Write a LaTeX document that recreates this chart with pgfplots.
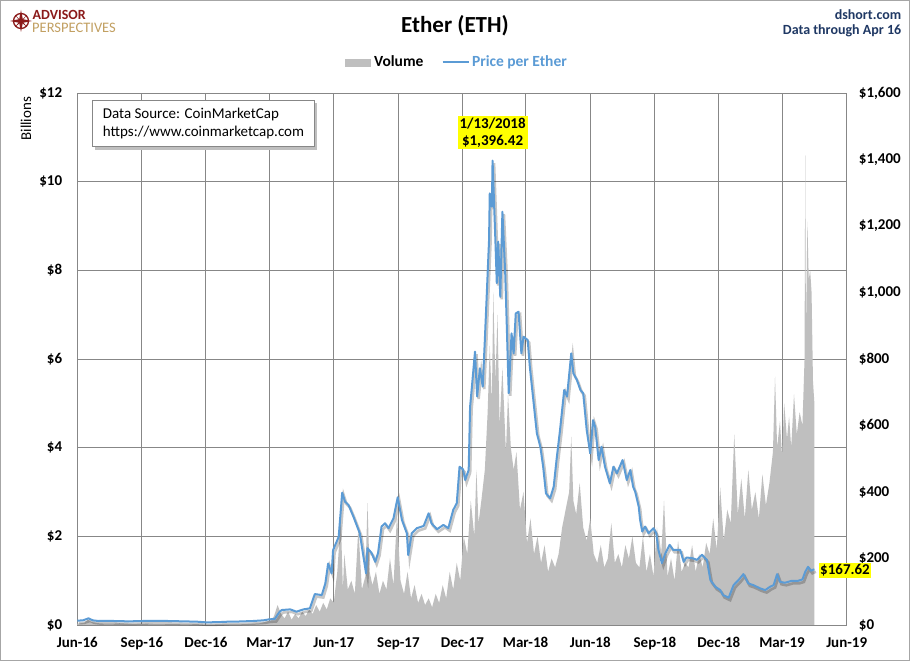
\documentclass[border=0pt]{standalone}
\usepackage{fontspec}
\setmainfont{Carlito}
\usepackage{pgfplots}
\pgfplotsset{compat=1.18}
\usepackage{pgfplotstable}
\definecolor{vol}{HTML}{BFBFBF}
\definecolor{price}{HTML}{5B9BD5}
\definecolor{gridc}{HTML}{878787}
\definecolor{navy}{HTML}{1F3864}
\definecolor{apred}{HTML}{8B1A1A}
\definecolor{apgold}{HTML}{C2A062}
\definecolor{hl}{HTML}{FFFF00}

% day = days since 2016-06-01 ; price in USD
\pgfplotstableread{
day price
0 13
8 14
16 20
22 14
30 12
45 12.5
60 11.5
75 11
92 12
110 12.5
130 12
150 11
170 10
183 8
200 8.5
215 10
230 10.5
250 12
265 14
273 17
281 18
288 40
291 45
303 47
312 40
322 47
331 50
338 93
348 90
353 125
357 185
362 155
364 225
372 265
377 398
381 371
386 361
393 326
402 276
411 155
413 231
419 216
424 190
428 216
433 296
438 306
443 291
450 321
456 384
462 316
469 276
471 210
476 276
483 291
493 298
500 336
504 306
512 288
521 301
528 291
535 346
540 366
544 476
549 468
552 436
557 466
559 656
561 702
566 822
569 687
573 772
577 717
580 857
583 1007
586 1158
587 1298
590 1258
591 1396.42
595 1158
597 1028
599 1153
602 987
605 1243
609 1058
611 917
614 697
618 877
621 817
624 937
628 942
632 817
635 867
641 857
644 777
648 697
654 577
659 536
663 476
667 396
673 381
678 416
682 496
687 586
693 707
697 687
703 817
706 757
711 737
716 707
720 697
725 586
730 516
734 616
737 596
742 496
746 536
751 476
758 426
763 476
768 456
776 496
782 436
787 466
791 416
794 401
799 356
801 316
804 281
808 296
813 276
820 291
824 276
827 226
832 186
837 216
843 241
848 226
858 226
863 190
867 203
875 201
882 196
889 211
896 196
901 135
908 115
915 105
919 90
927 82
934 120
941 135
948 153
955 125
962 120
972 110
979 105
986 115
991 120
996 153
1000 130
1007 127
1017 133
1026 133
1032 137
1036 160
1040 175
1044 163
1049 167.62
}\pricedata

% volume in billions USD
\pgfplotstableread{
day vol
0 0.03
10 0.05
15 0.12
20 0.07
30 0.04
40 0.03
50 0.03
60 0.04
70 0.03
80 0.02
90 0.025
100 0.03
110 0.02
120 0.02
130 0.02
140 0.02
150 0.015
160 0.015
170 0.02
180 0.01
190 0.01
200 0.012
210 0.015
220 0.012
230 0.015
240 0.02
250 0.03
260 0.04
270 0.08
275 0.1
280 0.2
285 0.45
290 0.25
295 0.15
300 0.3
305 0.12
310 0.25
315 0.15
320 0.3
325 0.2
330 0.35
335 0.25
340 0.45
345 0.3
350 0.5
355 0.35
360 0.6
365 0.5
370 1.2
375 2.4
378 0.8
380 1.6
385 0.8
390 1.0
395 0.7
400 2.2
405 0.8
410 1.1
413 2.75
416 1.2
420 0.9
425 1.2
430 0.7
435 1.0
440 0.8
445 1.5
450 0.9
455 2.5
460 1.0
465 0.7
470 1.2
475 0.6
480 0.9
485 0.5
490 0.7
495 0.45
500 0.6
505 0.4
510 0.7
515 0.5
520 0.9
525 0.6
530 1.2
535 0.8
540 1.4
545 1.0
550 2.0
555 1.6
560 2.8
565 2.0
568 3.5
571 2.3
575 2.8
580 3.5
584 4.8
587 6.3
590 5.0
592 7.5
595 5.5
598 7.0
601 4.5
605 5.8
610 3.9
613 5.2
617 4.0
621 3.5
625 3.9
630 2.6
635 3.0
640 1.85
645 2.4
650 1.6
655 2.0
660 1.4
665 1.8
670 1.2
675 1.5
680 1.3
685 1.6
690 2.2
695 2.6
700 3.0
703 4.25
706 2.8
710 2.5
715 3.2
720 2.2
725 1.9
730 2.4
735 1.6
740 1.4
745 1.8
750 1.3
755 1.5
760 2.3
765 1.4
770 1.6
775 1.3
780 1.8
785 1.5
790 2.0
795 1.4
800 1.3
805 2.0
810 1.2
815 1.6
820 1.1
825 2.2
830 1.3
835 2.8
840 1.1
845 1.5
850 1.0
855 1.9
860 1.2
865 1.4
870 1.3
875 1.8
880 1.2
885 1.6
890 1.3
895 1.85
900 1.6
905 2.4
910 1.7
915 3.1
920 1.9
925 2.6
930 2.3
935 4.3
940 2.5
945 3.3
950 2.4
955 3.5
960 2.6
965 3.0
970 2.4
975 3.4
980 2.7
985 3.2
990 3.9
993 5.6
996 4.0
1000 4.6
1003 3.8
1006 5.0
1010 4.2
1013 4.7
1016 4.0
1020 5.2
1024 4.3
1028 4.8
1032 4.5
1035 6.0
1036 10.6
1037 6.5
1039 9.1
1041 7.8
1043 8.0
1045 7.5
1047 5.5
1049 5.0
}\voldata

\begin{document}
\begin{tikzpicture}[x=1pt,y=1pt]
\useasboundingbox (0,0) rectangle (910,661);
\fill[white] (0,0) rectangle (910,661);

% volume axis (left)
\begin{axis}[
  at={(77.3pt,36pt)}, anchor=south west,
  scale only axis, width=769.4pt, height=532pt,
  xmin=0, xmax=1095, ymin=0, ymax=12,
  axis line style={gridc, line width=0.9pt},
  grid=major, major grid style={gridc, line width=0.9pt},
  major tick length=0pt,
  xtick={0,92,183,273,365,457,548,638,730,822,913,1003,1095},
  xticklabels={Jun-16,Sep-16,Dec-16,Mar-17,Jun-17,Sep-17,Dec-17,Mar-18,Jun-18,Sep-18,Dec-18,Mar-19,Jun-19},
  ytick={0,2,4,6,8,10,12},
  yticklabels={\$0,\$2,\$4,\$6,\$8,\$10,\$12},
  tick label style={font=\fontsize{15}{18}\selectfont\bfseries, black},
  xticklabel style={anchor=base, inner sep=0pt, yshift=-23pt},
  yticklabel style={anchor=east, inner sep=0pt, xshift=-15pt},
]
\addplot[fill=vol, draw=none] table[x=day, y=vol] {\voldata} \closedcycle;
\end{axis}

% price axis (right)
\begin{axis}[
  at={(77.3pt,36pt)}, anchor=south west,
  scale only axis, width=769.4pt, height=532pt,
  xmin=0, xmax=1095, ymin=0, ymax=1600,
  axis x line=none, axis y line*=right,
  axis line style={gridc, line width=0.9pt},
  major tick length=0pt,
  ytick={0,200,400,600,800,1000,1200,1400,1600},
  yticklabels={\$0,\$200,\$400,\$600,\$800,{\$1,000},{\$1,200},{\$1,400},{\$1,600}},
  tick label style={font=\fontsize{15}{18}\selectfont\bfseries, black},
  yticklabel style={anchor=west, inner sep=0pt, xshift=12pt},
  clip=false,
]
\addplot[black, opacity=0.22, line width=2.6pt, xshift=1.5pt, yshift=-2.5pt, forget plot] table[x=day, y=price] {\pricedata};
\addplot[price, line width=2pt, line join=round] table[x=day, y=price] {\pricedata};
\node[fill=hl, inner sep=2pt, align=center, anchor=south, yshift=11pt, font=\fontsize{15}{17}\selectfont\bfseries] at (axis cs:591,1396.42) {1/13/2018\\\$1,396.42};
\node[fill=hl, inner sep=1.6pt, anchor=west, xshift=4pt, yshift=-1pt, font=\fontsize{15}{17}\selectfont\bfseries] at (axis cs:1049,167.62) {\$167.62};
\end{axis}

% y label
\node[rotate=90, font=\fontsize{15}{18}\selectfont, inner sep=0pt] at (26,542.3) {Billions};

% data source box
\fill[black!25] (95,511) rectangle (317,558);
\draw[gridc, fill=white, line width=0.9pt] (92.3,515) rectangle (314,561);
\node[anchor=west, inner sep=0pt, font=\fontsize{15}{18}\selectfont] at (102.7,546) {Data Source: CoinMarketCap};
\node[anchor=west, inner sep=0pt, font=\fontsize{15}{18}\selectfont] at (102.7,528.5) {https://www.coinmarketcap.com};

% title and notes
\node[anchor=base, inner sep=0pt, font=\fontsize{23}{27}\selectfont\bfseries] at (455,628) {Ether (ETH)};
\node[anchor=base east, inner sep=0pt, text=navy, font=\fontsize{14}{17}\selectfont\bfseries] at (901.4,641.7) {dshort.com};
\node[anchor=base east, inner sep=0pt, text=navy, font=\fontsize{14}{17}\selectfont\bfseries] at (901.4,626.2) {Data through Apr 16};

% legend
\fill[vol] (344.9,594.3) rectangle (370.9,601.7);
\node[anchor=base west, inner sep=0pt, font=\fontsize{15.5}{18}\selectfont\bfseries] at (373.9,594.3) {Volume};
\draw[price, line width=2pt] (442.5,598.7) -- (468.8,598.7);
\node[anchor=base west, inner sep=0pt, text=price, font=\fontsize{15.5}{18}\selectfont\bfseries] at (471.8,594.3) {Price per Ether};

% logo
\draw[apred, line width=1.3pt] (21,640) circle (7.5);
\fill[apred] (21,651) -- (22.8,641.8) -- (32,640) -- (22.8,638.2) -- (21,629) -- (19.2,638.2) -- (10,640) -- (19.2,641.8) -- cycle;
\fill[apred] (21,640) -- (27,646) -- (22.2,640) -- (27,634) -- (21,638.8) -- (15,634) -- (19.8,640) -- (15,646) -- cycle;
\node[anchor=base west, inner sep=0pt, text=apred, font=\fontsize{14}{16}\selectfont\bfseries] at (32.5,641.2) {ADVISOR};
\node[anchor=base west, inner sep=0pt, text=apgold, font=\fontsize{14.5}{16}\selectfont] at (32,628.2) {PERSPECTIVES};

% outer frame
\draw[gray!70, line width=1pt] (0.5,0.5) rectangle (909.5,660.5);
\end{tikzpicture}
\end{document}
